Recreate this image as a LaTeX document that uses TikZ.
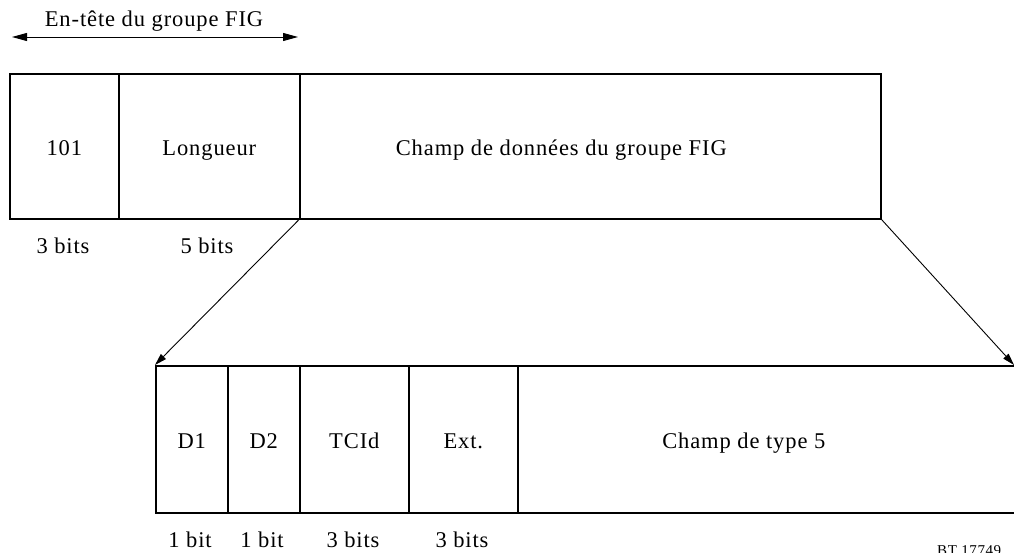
\documentclass[tikz,border=0pt]{standalone}
\usepackage{fontspec}
\setmainfont{Liberation Serif}[LetterSpace=4]
\usetikzlibrary{arrows.meta}
\begin{document}
\begin{tikzpicture}[x=1pt,y=-1pt,
  field/.style={draw,line width=1.6pt,minimum height=145pt,inner sep=0pt,anchor=north west,
    text height=0.66em+12pt,text depth=0pt,font=\fontsize{22.5}{26}\selectfont},
  lab/.style={font=\fontsize{22.5}{26}\selectfont,inner sep=0pt,text height=0.66em,text depth=0pt},
  conn/.style={line width=0.9pt,-{Triangle[length=12pt,width=7pt]}}]
\useasboundingbox (0,0) rectangle (1014,553);
\clip (0,0) rectangle (1014,553);
% top row
\node[field,minimum width=109pt] (f101) at (9,73) {101};
\node[field,minimum width=181pt] (flong) at (118,73) {Longueur};
\node[field,minimum width=581pt] (fdata) at (299,73) {\hspace*{-58pt}Champ de données du groupe FIG};
\node[lab] (b3) at (63,250) {3 bits};
\node[lab] (b5) at (207,250) {5 bits};
% header arrow
\coordinate (hl) at (12,37);
\coordinate (hr) at (298,37);
\draw[line width=0.9pt,{Triangle[length=15pt,width=8pt]}-{Triangle[length=15pt,width=8pt]}] (hl) -- (hr);
\node[lab] (hdr) at (154,23) {En-tête du groupe FIG};
% bottom row
\node[field,minimum width=72pt,minimum height=147pt] (d1) at (155,365) {D1};
\node[field,minimum width=72pt,minimum height=147pt] (d2) at (227,365) {D2};
\node[field,minimum width=109pt,minimum height=147pt] (tcid) at (299,365) {TCId};
\node[field,minimum width=109pt,minimum height=147pt] (ext) at (408,365) {Ext.};
\node[field,minimum width=510pt,minimum height=147pt] (typ) at (517,365) {\hspace*{-58pt}Champ de type 5};
\node[lab] (l1) at (190,544) {1 bit};
\node[lab] (l2) at (262,544) {1 bit};
\node[lab] (l3) at (353,544) {3 bits};
\node[lab] (l4) at (462,544) {3 bits};
\node[anchor=base west,inner sep=0pt,font=\fontsize{15}{18}\selectfont] (bt) at (937,555) {BT 17749};
% expansion arrows
\draw[conn] (fdata.south west) -- (d1.north west);
\coordinate (rt) at (1014,365);
\draw[conn] (fdata.south east) -- (rt);
\end{tikzpicture}
\end{document}
